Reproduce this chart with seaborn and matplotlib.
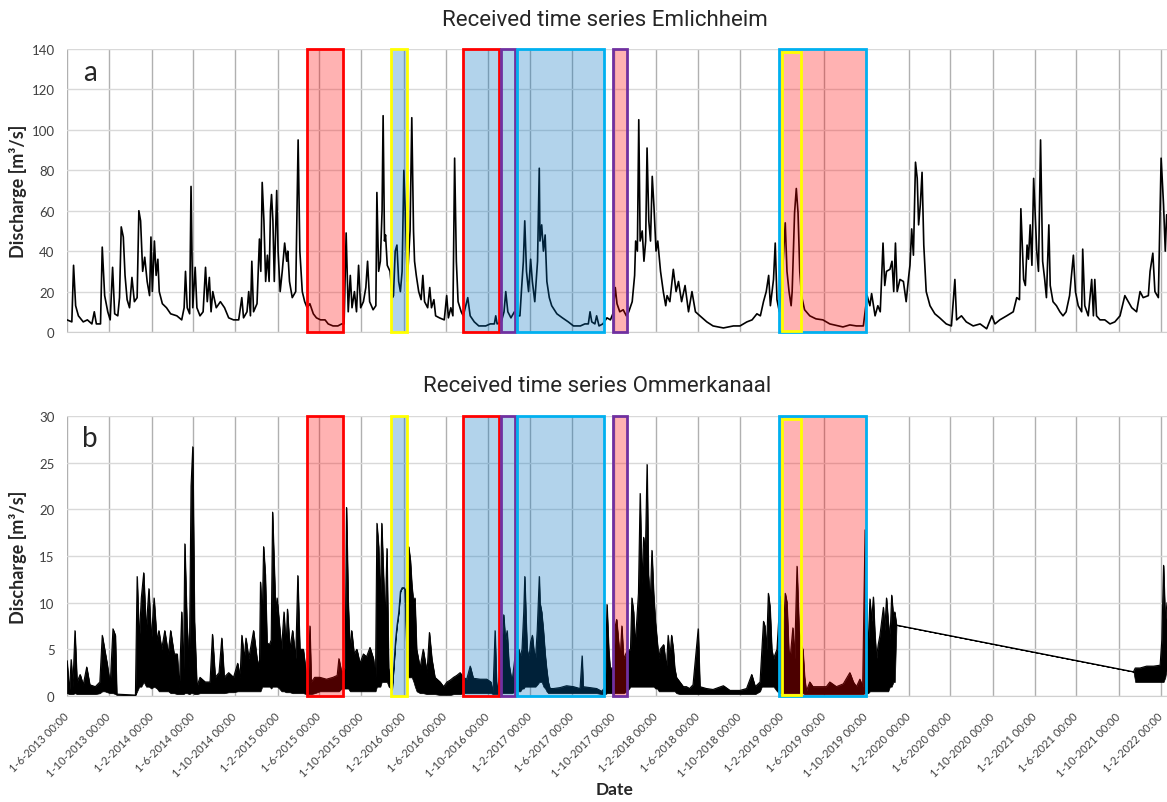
import numpy as np
import pandas as pd
import matplotlib
matplotlib.use('Agg')
import matplotlib.pyplot as plt
import matplotlib.dates as mdates
from matplotlib.patches import Rectangle
from matplotlib.ticker import FuncFormatter, MultipleLocator
import seaborn as sns

# Emlichheim discharge [m3/s]
emlichheim_dates = [
    # 2013
    '2013-06-01', '2013-06-15', '2013-06-20', '2013-06-26', '2013-07-04', '2013-07-18', '2013-07-30', '2013-08-12', '2013-08-19', '2013-08-25',
    '2013-09-06', '2013-09-11', '2013-09-18', '2013-09-27', '2013-10-04', '2013-10-11', '2013-10-17', '2013-10-26', '2013-10-31', '2013-11-05',
    '2013-11-11', '2013-11-16', '2013-11-22', '2013-11-29', '2013-12-06', '2013-12-13', '2013-12-21', '2013-12-26', '2013-12-31',
    # 2014
    '2014-01-06', '2014-01-12', '2014-01-19', '2014-01-26', '2014-01-30', '2014-02-03', '2014-02-09', '2014-02-14', '2014-02-19', '2014-02-23',
    '2014-03-04', '2014-03-16', '2014-03-28', '2014-04-15', '2014-04-29', '2014-05-06', '2014-05-10', '2014-05-15', '2014-05-22', '2014-05-26',
    '2014-05-31', '2014-06-07', '2014-06-12', '2014-06-21', '2014-06-30', '2014-07-07', '2014-07-12', '2014-07-18', '2014-07-23', '2014-07-28',
    '2014-08-07', '2014-08-19', '2014-08-31', '2014-09-12', '2014-09-26', '2014-10-11', '2014-10-20', '2014-10-25', '2014-11-04', '2014-11-09',
    '2014-11-14', '2014-11-18', '2014-11-23', '2014-12-03', '2014-12-10', '2014-12-14', '2014-12-18', '2014-12-23', '2014-12-28',
    # 2015
    '2015-01-02', '2015-01-07', '2015-01-11', '2015-01-14', '2015-01-18', '2015-01-22', '2015-01-29', '2015-02-02', '2015-02-08', '2015-02-14',
    '2015-02-21', '2015-02-27', '2015-03-02', '2015-03-07', '2015-03-15', '2015-03-25', '2015-04-01', '2015-04-06', '2015-04-13', '2015-04-20',
    '2015-04-27', '2015-05-05', '2015-05-15', '2015-05-24', '2015-06-05', '2015-06-18', '2015-06-27', '2015-07-11', '2015-07-25', '2015-08-05',
    '2015-08-12', '2015-08-18', '2015-08-24', '2015-08-30', '2015-09-04', '2015-09-11', '2015-09-17', '2015-09-23', '2015-09-29', '2015-10-07',
    '2015-10-14', '2015-10-19', '2015-10-25', '2015-11-04', '2015-11-12', '2015-11-15', '2015-11-20', '2015-11-25', '2015-11-30', '2015-12-03',
    '2015-12-07', '2015-12-10', '2015-12-15', '2015-12-23', '2015-12-30',
    # 2016
    '2016-01-02', '2016-01-07', '2016-01-12', '2016-01-17', '2016-01-22', '2016-01-27', '2016-02-01', '2016-02-06', '2016-02-11', '2016-02-19',
    '2016-02-24', '2016-02-29', '2016-03-03', '2016-03-08', '2016-03-15', '2016-03-22', '2016-03-27', '2016-04-01', '2016-04-10', '2016-04-16',
    '2016-04-21', '2016-04-28', '2016-05-03', '2016-05-14', '2016-05-28', '2016-06-04', '2016-06-09', '2016-06-16', '2016-06-22', '2016-06-27',
    '2016-07-02', '2016-07-07', '2016-07-16', '2016-07-22', '2016-08-04', '2016-08-11', '2016-08-23', '2016-09-05', '2016-09-25', '2016-10-08',
    '2016-10-20', '2016-10-24', '2016-10-28', '2016-11-09', '2016-11-17', '2016-11-22', '2016-11-28', '2016-12-07', '2016-12-17', '2016-12-25',
    # 2017
    '2017-01-02', '2017-01-07', '2017-01-12', '2017-01-16', '2017-01-21', '2017-01-27', '2017-02-02', '2017-02-07', '2017-02-14', '2017-02-22',
    '2017-02-27', '2017-03-01', '2017-03-06', '2017-03-11', '2017-03-16', '2017-03-21', '2017-03-28', '2017-04-04', '2017-04-19', '2017-05-05',
    '2017-05-22', '2017-06-06', '2017-06-26', '2017-07-09', '2017-07-19', '2017-07-24', '2017-07-29', '2017-08-07', '2017-08-12', '2017-08-19',
    '2017-08-30', '2017-09-11', '2017-09-21', '2017-09-28', '2017-10-05', '2017-10-10', '2017-10-18', '2017-10-28', '2017-11-06', '2017-11-13',
    '2017-11-23', '2017-11-30', '2017-12-03', '2017-12-08', '2017-12-12', '2017-12-16', '2017-12-22', '2017-12-27',
    # 2018
    '2018-01-01', '2018-01-05', '2018-01-10', '2018-01-15', '2018-01-20', '2018-01-25', '2018-01-31', '2018-02-05', '2018-02-13', '2018-02-21',
    '2018-02-28', '2018-03-04', '2018-03-12', '2018-03-22', '2018-03-30', '2018-04-06', '2018-04-15', '2018-04-25', '2018-05-05', '2018-05-15',
    '2018-05-25', '2018-06-07', '2018-06-27', '2018-07-15', '2018-08-14', '2018-09-12', '2018-10-01', '2018-10-21', '2018-11-05', '2018-11-19',
    '2018-11-29', '2018-12-08', '2018-12-16', '2018-12-23', '2018-12-28',
    # 2019
    '2019-01-06', '2019-01-11', '2019-01-16', '2019-01-23', '2019-01-31', '2019-02-09', '2019-02-14', '2019-02-20', '2019-02-26', '2019-03-01',
    '2019-03-08', '2019-03-13', '2019-03-18', '2019-03-23', '2019-03-28', '2019-04-06', '2019-04-21', '2019-05-09', '2019-05-29', '2019-06-18',
    '2019-07-06', '2019-07-26', '2019-08-15', '2019-09-03', '2019-09-23', '2019-10-04', '2019-10-12', '2019-10-17', '2019-10-27', '2019-11-04',
    '2019-11-11', '2019-11-19', '2019-11-24', '2019-11-29', '2019-12-09', '2019-12-15', '2019-12-20', '2019-12-25', '2019-12-30',
    # 2020
    '2020-01-07', '2020-01-17', '2020-01-25', '2020-02-01', '2020-02-05', '2020-02-10', '2020-02-15', '2020-02-21', '2020-02-26', '2020-03-01',
    '2020-03-06', '2020-03-11', '2020-03-16', '2020-03-23', '2020-04-03', '2020-04-17', '2020-05-01', '2020-05-20', '2020-06-04', '2020-06-14',
    '2020-06-19', '2020-07-03', '2020-07-17', '2020-08-06', '2020-08-26', '2020-09-14', '2020-09-29', '2020-10-08', '2020-10-22', '2020-11-11',
    '2020-11-30', '2020-12-10', '2020-12-18', '2020-12-22', '2020-12-30',
    # 2021
    '2021-01-04', '2021-01-09', '2021-01-13', '2021-01-18', '2021-01-23', '2021-01-28', '2021-02-02', '2021-02-06', '2021-02-11', '2021-02-17',
    '2021-02-23', '2021-03-01', '2021-03-06', '2021-03-13', '2021-03-17', '2021-03-25', '2021-04-04', '2021-04-14', '2021-04-23', '2021-05-02',
    '2021-05-12', '2021-05-23', '2021-05-29', '2021-06-06', '2021-06-16', '2021-06-19', '2021-06-25', '2021-07-05', '2021-07-15', '2021-07-20',
    '2021-07-24', '2021-07-29', '2021-08-08', '2021-08-22', '2021-09-06', '2021-09-20', '2021-10-05', '2021-10-19', '2021-10-29', '2021-11-08',
    '2021-11-22', '2021-12-02', '2021-12-11', '2021-12-26', '2021-12-31',
    # 2022
    '2022-01-08', '2022-01-14', '2022-01-24', '2022-02-01', '2022-02-08', '2022-02-13', '2022-02-17',
]
emlichheim_q = [
    6, 5, 33, 13, 8, 5, 6, 4, 10, 4, 4, 42, 18, 10, 6, 32, 9, 8, 17, 52, 47, 28, 16, 12, 27, 15, 17, 60, 55,
    30, 37, 25, 18, 47, 20, 45, 28, 36, 20, 14, 12, 9, 8, 6, 12, 30, 12, 9, 72, 12, 32, 12, 8, 10, 32, 15, 27, 10, 20,
    12, 15, 12, 7, 6, 6, 17, 7, 10, 20, 8, 35, 10, 14, 46, 30, 74, 55, 25,
    38, 25, 60, 68, 55, 25, 70, 40, 20, 30, 44, 35, 40, 25, 17, 20, 95, 40, 20, 15, 12, 14, 9, 7, 6, 6, 4, 3, 3, 4,
    4, 49, 10, 28, 12, 20, 10, 33, 12, 15, 22, 35, 15, 11, 13, 69, 30, 35, 60, 107, 45, 48, 33, 30, 17,
    18, 40, 43, 25, 20, 30, 80, 55, 25, 50, 106, 50, 35, 28, 20, 16, 28, 15, 12, 22, 12, 16, 8, 7, 6, 18, 7, 12, 8, 86,
    35, 15, 10, 8, 17, 8, 5, 3, 3, 4, 4, 8, 4, 5, 10, 20, 10, 7, 10, 8,
    8, 22, 35, 55, 30, 20, 36, 25, 15, 35, 81, 45, 53, 40, 48, 25, 17, 13, 9, 7, 5, 3, 3, 4, 4, 10, 5, 4, 8, 3,
    4, 7, 6, 9, 22, 14, 10, 11, 8, 10, 15, 28, 45, 40, 105, 45, 50, 35,
    45, 91, 55, 45, 77, 62, 40, 45, 30, 20, 13, 18, 15, 31, 20, 25, 15, 23, 10, 20, 10, 8, 5, 3, 2, 3, 3, 5, 6, 9,
    8, 15, 20, 28, 13,
    26, 44, 16, 10, 26, 54, 30, 20, 13, 20, 59, 71, 59, 30, 18, 11, 8, 6.5, 6, 4, 3.3, 2.5, 3.5, 3, 3, 18, 13, 19, 8, 13,
    10, 44, 23, 30, 31, 35, 20, 44, 20,
    26, 25, 15, 27, 33, 51, 38, 84, 76, 53, 63, 79, 43, 20, 13, 9, 7, 4, 3, 26, 6, 8, 5, 3, 4, 1.6, 8, 4, 6, 8,
    10, 17, 16, 61, 26,
    23, 43, 36, 53, 33, 76, 56, 40, 30, 95, 35, 26, 17, 53, 23, 15, 13, 10, 8, 10, 18, 38, 20, 13, 10, 41, 13, 8, 26, 8,
    26, 8, 6, 6, 4, 5, 8, 18, 15, 12, 10, 20, 17, 18, 30,
    39, 20, 17, 86, 63, 40, 58,
]

# Ommerkanaal discharge [m3/s]: very dense record, read as upper / lower envelope
ommer_dates = [
    # 2013
    '2013-06-01', '2013-06-08', '2013-06-13', '2013-06-18', '2013-06-24', '2013-06-30', '2013-07-09', '2013-07-18', '2013-07-28', '2013-08-06',
    '2013-08-22', '2013-09-04', '2013-09-11', '2013-09-18', '2013-09-25', '2013-10-04', '2013-10-12', '2013-10-19', '2013-10-23', '2013-12-16',
    '2013-12-21', '2013-12-27',
    # 2014
    '2014-01-02', '2014-01-09', '2014-01-16', '2014-01-24', '2014-01-31', '2014-02-08', '2014-02-16', '2014-02-22', '2014-03-02', '2014-03-11',
    '2014-03-21', '2014-03-28', '2014-04-07', '2014-04-16', '2014-04-22', '2014-04-29', '2014-05-04', '2014-05-08', '2014-05-14', '2014-05-21',
    '2014-05-26', '2014-05-31', '2014-06-05', '2014-06-12', '2014-06-21', '2014-07-06', '2014-07-20', '2014-07-27', '2014-08-04', '2014-08-15',
    '2014-08-23', '2014-08-30', '2014-09-12', '2014-09-26', '2014-10-08', '2014-10-15', '2014-10-20', '2014-10-27', '2014-11-01', '2014-11-09',
    '2014-11-16', '2014-11-23', '2014-12-03', '2014-12-10', '2014-12-13', '2014-12-18', '2014-12-22', '2014-12-27',
    # 2015
    '2015-01-01', '2015-01-08', '2015-01-13', '2015-01-17', '2015-01-20', '2015-01-26', '2015-01-30', '2015-02-05', '2015-02-12', '2015-02-19',
    '2015-02-25', '2015-03-01', '2015-03-08', '2015-03-16', '2015-03-25', '2015-03-31', '2015-04-06', '2015-04-16', '2015-04-24', '2015-04-30',
    '2015-05-05', '2015-05-09', '2015-05-19', '2015-06-03', '2015-06-22', '2015-07-11', '2015-07-23', '2015-07-28', '2015-08-05', '2015-08-15',
    '2015-08-19', '2015-08-24', '2015-08-29', '2015-09-03', '2015-09-10', '2015-09-18', '2015-09-27', '2015-10-07', '2015-10-16', '2015-10-26',
    '2015-11-05', '2015-11-11', '2015-11-15', '2015-11-20', '2015-11-25', '2015-11-29', '2015-12-04', '2015-12-09', '2015-12-14', '2015-12-19',
    '2015-12-29',
    # 2016
    '2016-01-03', '2016-01-08', '2016-01-12', '2016-01-17', '2016-01-22', '2016-01-27', '2016-02-02', '2016-02-10', '2016-02-15', '2016-02-20',
    '2016-02-24', '2016-02-29', '2016-03-04', '2016-03-09', '2016-03-19', '2016-03-28', '2016-04-08', '2016-04-15', '2016-04-22', '2016-05-01',
    '2016-05-16', '2016-05-26', '2016-06-05', '2016-06-14', '2016-06-24', '2016-07-03', '2016-07-13', '2016-07-22', '2016-08-01', '2016-08-11',
    '2016-08-20', '2016-09-09', '2016-09-28', '2016-10-10', '2016-10-16', '2016-10-22', '2016-10-27', '2016-11-06', '2016-11-16', '2016-11-21',
    '2016-11-26', '2016-12-01', '2016-12-10', '2016-12-20', '2016-12-30',
    # 2017
    '2017-01-03', '2017-01-08', '2017-01-13', '2017-01-16', '2017-01-20', '2017-01-23', '2017-01-28', '2017-02-02', '2017-02-07', '2017-02-11',
    '2017-02-16', '2017-02-21', '2017-02-27', '2017-03-01', '2017-03-06', '2017-03-11', '2017-03-16', '2017-03-20', '2017-03-25', '2017-03-30',
    '2017-04-09', '2017-04-28', '2017-05-17', '2017-06-06', '2017-06-25', '2017-07-01', '2017-07-04', '2017-07-24', '2017-08-12', '2017-08-27',
    '2017-09-06', '2017-09-11', '2017-09-16', '2017-09-20', '2017-09-30', '2017-10-05', '2017-10-09', '2017-10-14', '2017-10-19', '2017-10-24',
    '2017-10-29', '2017-11-08', '2017-11-18', '2017-11-22', '2017-11-27', '2017-12-01', '2017-12-06', '2017-12-11', '2017-12-16', '2017-12-21',
    '2017-12-26', '2017-12-31',
    # 2018
    '2018-01-05', '2018-01-09', '2018-01-14', '2018-01-19', '2018-01-24', '2018-01-29', '2018-02-03', '2018-02-08', '2018-02-12', '2018-02-22',
    '2018-03-02', '2018-03-07', '2018-03-12', '2018-03-17', '2018-03-22', '2018-03-26', '2018-03-31', '2018-04-10', '2018-04-20', '2018-04-29',
    '2018-05-08', '2018-05-18', '2018-06-02', '2018-06-07', '2018-06-26', '2018-07-15', '2018-08-14', '2018-09-02', '2018-10-01', '2018-10-20',
    '2018-11-04', '2018-11-14', '2018-11-28', '2018-12-03', '2018-12-08', '2018-12-12', '2018-12-17', '2018-12-22', '2018-12-27',
    # 2019
    '2019-01-01', '2019-01-06', '2019-01-16', '2019-01-25', '2019-01-30', '2019-02-04', '2019-02-09', '2019-02-14', '2019-02-19', '2019-02-23',
    '2019-02-28', '2019-03-03', '2019-03-08', '2019-03-15', '2019-03-21', '2019-03-28', '2019-04-01', '2019-04-06', '2019-04-11', '2019-04-21',
    '2019-04-30', '2019-05-19', '2019-06-08', '2019-06-18', '2019-07-07', '2019-07-27', '2019-08-15', '2019-08-25', '2019-09-03', '2019-09-13',
    '2019-09-21', '2019-09-28', '2019-10-02', '2019-10-07', '2019-10-12', '2019-10-17', '2019-10-22', '2019-10-26', '2019-10-31', '2019-11-05',
    '2019-11-10', '2019-11-20', '2019-11-24', '2019-11-29', '2019-12-04', '2019-12-09', '2019-12-14', '2019-12-19', '2019-12-23', '2019-12-28',
    # gap, then 2021-2022
    '2021-11-13', '2021-11-18', '2021-12-02', '2021-12-21', '2022-01-10', '2022-01-29', '2022-02-03', '2022-02-08', '2022-02-13', '2022-02-18',
]
ommer_hi = [
    3.8, 0.5, 3.9, 1.0, 7.0, 1.5, 2.3, 1.2, 3.1, 1.2, 1.0, 1.5, 6.5, 5.0, 3.5, 1.2, 7.2, 6.5, 0.2, 0.1, 12.8, 6,
    10.5, 13.2, 7, 11.5, 6, 10.5, 6, 7, 5, 7, 4.5, 7, 4.5, 4.5, 0.8, 9, 2, 16.3, 8, 3,
    22.5, 26.7, 8, 1.0, 2.0, 1.5, 1.5, 6.6, 2, 2.5, 6.2, 2.0, 2.5, 2.0, 3.5, 2, 6.5, 4, 6.2, 4,
    5.5, 7, 4, 3, 12.2, 8, 16, 13,
    5.7, 5.5, 6, 19.7, 16, 9, 10.5, 8, 5, 9, 5, 9.3, 5, 7, 4, 12.9, 5, 5, 2.5, 1.5,
    7.5, 1.5, 2.0, 2.0, 1.8, 2.0, 2.2, 4, 2.5, 3, 20.2, 10, 5, 7, 4.5, 5, 3.5, 4.5, 4.2, 5.2,
    4, 2, 18.5, 16, 10, 18.5, 13, 8, 15.8, 3, 0.7,
    3.2, 6, 7.5, 8.9, 11.2, 11.6, 11.6, 11, 16, 14.5, 12, 10, 10.5, 5, 3, 5, 2.5, 6.8, 4, 2,
    1.5, 1.0, 1.5, 1.7, 2, 2.2, 2.5, 2, 1.8, 3.2, 1.9, 1.8, 1.8, 1.5, 0.3, 7, 0.5, 2.5, 8.7, 6,
    7, 3.5, 1.5, 4.6, 5,
    4.2, 5, 9, 12.8, 8, 5, 4, 5.8, 6.5, 5, 4, 7, 12.8, 10, 9, 7, 4.5, 3, 1.5, 0.8,
    0.8, 0.9, 1.1, 1.0, 0.8, 4.3, 1.0, 0.9, 0.8, 0.5, 1.0, 9.8, 5, 3, 3, 7.5, 8.2, 6, 4, 7.5,
    4, 4.8, 5, 10.5, 9, 5.5, 8, 11, 21.7, 12, 17, 15,
    24.8, 13, 10, 15.6, 11, 8, 6, 4, 5, 5.5, 3, 6.5, 4, 6.5, 5, 3, 2, 1.5, 1, 1,
    0.8, 1.2, 7.2, 1, 0.8, 0.7, 1.1, 0.6, 0.6, 0.8, 2.3, 1, 1.5, 4.7, 8, 7.5, 5, 11, 9.5,
    5, 4, 5, 10.7, 9, 7, 11, 10, 5, 4, 6, 7.3, 4, 13.9, 7, 5.3, 5, 2, 0.5, 1.5,
    1, 1, 1, 1.5, 1, 1.3, 2.5, 1.5, 1, 1.8, 1, 17.8, 10.5, 5, 10.4, 8, 10.6, 7, 4, 5.5,
    6.5, 9.5, 7, 10.5, 8, 6, 10.8, 8.5, 9, 7.6,
    2.6, 3, 3, 3.2, 3.2, 3.3, 6, 14, 8, 10,
]
ommer_lo = [
    0.3, 0.2, 0.2, 0.2, 0.3, 0.2, 0.2, 0.2, 0.2, 0.2, 0.2, 0.3, 0.5, 0.5, 0.4, 0.3, 0.3, 0.2, 0.1, 0.1, 0.5, 1,
    1, 1.5, 1, 1, 0.8, 1, 0.8, 0.5, 0.5, 0.5, 0.5, 0.3, 0.3, 0.2, 0.2, 0.2, 0.2, 0.3, 0.3, 0.2,
    0.3, 0.3, 0.2, 0.2, 0.3, 0.3, 0.3, 0.3, 0.3, 0.3, 0.3, 0.3, 0.4, 0.4, 0.5, 0.5, 0.5, 0.5, 0.5, 0.5,
    0.5, 0.5, 0.5, 0.5, 0.5, 1, 1, 1,
    1, 1, 0.8, 1, 1, 1, 1, 0.8, 0.5, 0.5, 0.4, 0.4, 0.4, 0.3, 0.3, 0.3, 0.3, 0.3, 0.2, 0.2,
    0.2, 0.2, 0.3, 0.5, 0.5, 0.5, 0.5, 0.5, 0.8, 0.8, 0.8, 0.8, 0.5, 0.5, 0.5, 0.5, 0.5, 0.5, 0.5, 0.5,
    0.5, 0.5, 1, 1, 1, 1.5, 1.5, 1.5, 1.5, 1, 0.7,
    3.2, 6, 7.5, 8.9, 11.2, 11.6, 11.6, 2, 2, 2, 2, 1.5, 1, 0.5, 0.3, 0.3, 0.2, 0.2, 0.2, 0.2,
    0.1, 0.1, 0.1, 0.1, 0.2, 0.2, 0.2, 0.3, 0.3, 0.3, 0.3, 0.3, 0.3, 0.3, 0.2, 0.2, 0.2, 0.3, 0.3, 0.3,
    0.3, 0.3, 0.3, 0.5, 0.5,
    0.5, 0.8, 0.8, 1, 1, 1, 1, 1, 1, 1, 1, 1.2, 1.5, 1.5, 1.5, 1, 0.8, 0.5, 0.3, 0.3,
    0.3, 0.3, 0.3, 0.3, 0.3, 0.3, 0.3, 0.3, 0.3, 0.2, 0.2, 0.3, 0.3, 0.3, 0.3, 0.3, 0.3, 0.3, 0.3, 0.3,
    0.3, 0.5, 1, 1, 1, 1, 1, 1, 1, 1, 1, 1,
    1, 1, 1, 1, 1, 0.8, 0.8, 0.5, 0.5, 0.5, 0.5, 0.5, 0.5, 0.5, 0.5, 0.5, 0.3, 0.2, 0.2, 0.2,
    0.2, 0.2, 0.2, 0.2, 0.2, 0.2, 0.2, 0.2, 0.2, 0.2, 0.2, 0.2, 0.5, 1, 1, 1, 1, 1, 1,
    1, 1, 0.5, 0.3, 0.3, 0.3, 0.3, 0.3, 0.3, 0.3, 0.3, 0.3, 0.3, 0.3, 0.3, 0.3, 0.3, 0.2, 0.2, 0.2,
    0.2, 0.2, 0.2, 0.2, 0.2, 0.2, 0.2, 0.2, 0.2, 0.2, 0.2, 0.3, 0.3, 0.3, 0.5, 0.5, 0.5, 0.5, 0.5, 0.5,
    0.5, 0.5, 0.5, 0.5, 0.5, 1, 1, 1.5, 1.5, 7.6,
    2.6, 1.5, 1.5, 1.5, 1.5, 1.5, 1.5, 1.5, 2, 3,
]

# marked periods
box_start = ['2015-04-27', '2015-12-26', '2016-07-21', '2016-11-08', '2016-12-25', '2017-09-29', '2019-01-22', '2019-01-31']
box_end = ['2015-08-09', '2016-02-10', '2016-11-03', '2016-12-19', '2017-09-03', '2017-11-08', '2019-10-01', '2019-03-27']
box_edge = ['red', 'yellow', 'red', 'purple', 'cyan', 'purple', 'cyan', 'yellow']
box_fill = ['red', 'blue', 'blue', 'blue', 'blue', 'red', 'red', None]

edge_colors = {'red': '#ff0000', 'yellow': '#ffff00', 'purple': '#7030a0', 'cyan': '#00b0f0'}
fill_colors = {'red': (1.0, 0.0, 0.0, 0.3), 'blue': (0.0, 0.44, 0.75, 0.3)}

emlichheim = pd.DataFrame({'date': pd.to_datetime(emlichheim_dates), 'q': emlichheim_q})
ommer = pd.DataFrame({'date': pd.to_datetime(ommer_dates), 'hi': ommer_hi, 'lo': ommer_lo})

sns.set_style('white')
plt.rcParams['font.family'] = ['Lato', 'DejaVu Sans']

W, H = 1167, 803
fig = plt.figure(figsize=(W / 100, H / 100), dpi=100)
ax_a = fig.add_axes([67 / W, 1 - 333 / H, 1100 / W, 283 / H])
ax_b = fig.add_axes([67 / W, 1 - 697 / H, 1100 / W, 280 / H])

sns.lineplot(data=emlichheim, x='date', y='q', ax=ax_a, color='black', linewidth=1.2, zorder=2)
ax_b.fill_between(ommer['date'], ommer['lo'], ommer['hi'], color='black', linewidth=0.5, zorder=2)
sns.lineplot(data=ommer, x='date', y='hi', ax=ax_b, color='black', linewidth=0.8, zorder=2)


def date_label(x, pos):
    d = mdates.num2date(x)
    return f'{d.day}-{d.month}-{d.year} 00:00'


for ax, ymax, ystep, letter in [(ax_a, 140, 20, 'a'), (ax_b, 30, 5, 'b')]:
    ax.set_xlim(pd.Timestamp('2013-06-01'), pd.Timestamp('2022-02-18'))
    ax.set_ylim(0, ymax)
    ax.yaxis.set_major_locator(MultipleLocator(ystep))
    ax.xaxis.set_major_locator(mdates.MonthLocator(bymonth=[2, 6, 10], bymonthday=1))
    ax.xaxis.set_major_formatter(FuncFormatter(date_label))
    ax.set_axisbelow(True)
    ax.grid(axis='y', color='#d9d9d9', linewidth=1)
    ax.grid(axis='x', color='#b0b0b0', linewidth=1)
    for side in ['top', 'right', 'left']:
        ax.spines[side].set_visible(False)
    ax.spines['bottom'].set_color('#d0d0d0')
    ax.tick_params(axis='x', length=4, color='#c8c8c8', pad=9, labelsize=8, labelcolor='#404040')
    ax.tick_params(axis='y', length=0, pad=9, labelsize=9.5, labelcolor='#404040')
    ax.set_xlabel('')
    ax.set_ylabel('Discharge [m³/s]', fontsize=13, fontweight='bold')
    ax.yaxis.set_label_coords(-0.036, 0.5)
    ax.text(0.021, 0.92, letter, transform=ax.transAxes, fontsize=20, ha='center', va='center')

    tr = ax.get_xaxis_transform()
    for s, e, edge, fill in zip(box_start, box_end, box_edge, box_fill):
        x0 = mdates.date2num(pd.Timestamp(s))
        x1 = mdates.date2num(pd.Timestamp(e))
        if fill is None:
            rect = Rectangle((x0, 0.005), x1 - x0, 0.985, transform=tr, facecolor='none',
                             edgecolor=edge_colors[edge], linewidth=2, zorder=6, clip_on=False)
        else:
            rect = Rectangle((x0, 0), x1 - x0, 1, transform=tr, facecolor=fill_colors[fill],
                             edgecolor=edge_colors[edge], linewidth=2, zorder=5, clip_on=False)
        ax.add_patch(rect)

ax_a.tick_params(axis='x', labelbottom=False)
plt.setp(ax_b.get_xticklabels(), rotation=45, ha='right', va='center', rotation_mode='anchor')

fig.text(605 / W, 1 - 20 / H, 'Received time series Emlichheim', ha='center', va='center',
         fontsize=16, family=['Roboto', 'DejaVu Sans'])
fig.text(597 / W, 1 - 387 / H, 'Received time series Ommerkanaal', ha='center', va='center',
         fontsize=16, family=['Roboto', 'DejaVu Sans'])
fig.text(615 / W, 1 - 790 / H, 'Date', ha='center', va='center', fontsize=12.5, fontweight='bold')

fig.savefig('out.png', dpi=100)
